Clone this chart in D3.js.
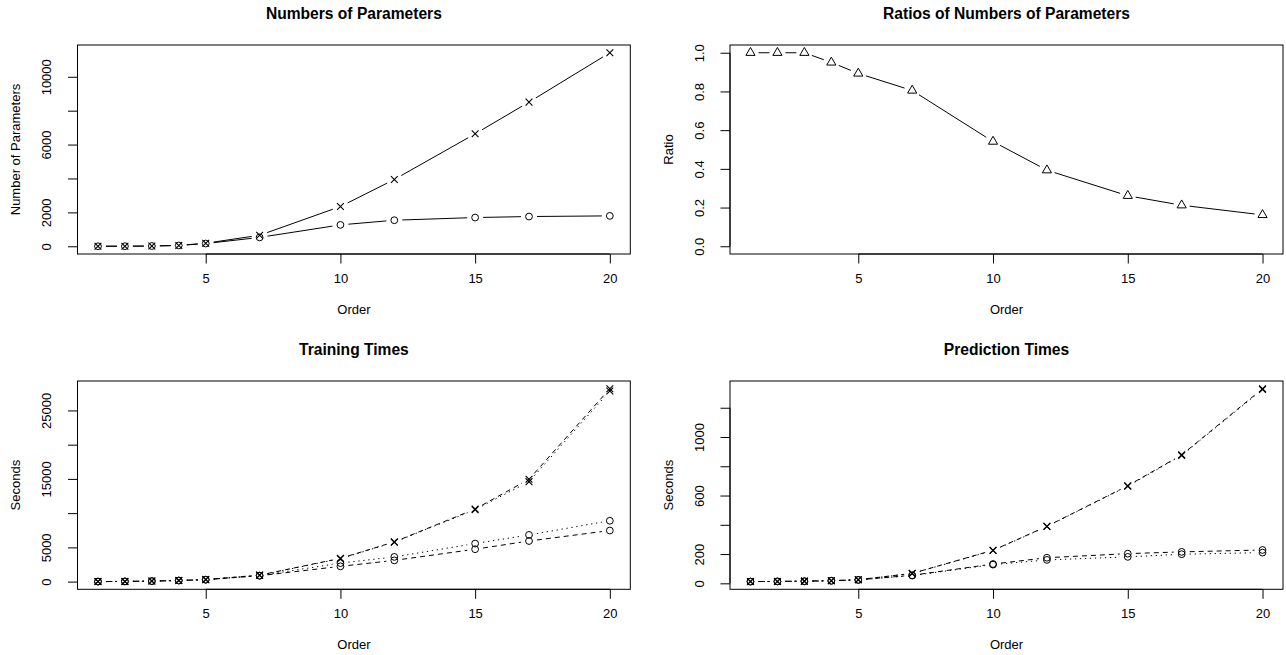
<!DOCTYPE html>
<html><head><meta charset="utf-8">
<script src="https://cdn.jsdelivr.net/npm/d3@7"></script>
<style>
body{margin:0;background:#fff}
svg{display:block}
text{font-family:"Liberation Sans",Arial,Helvetica,sans-serif;fill:#000}
</style>
</head><body>
<svg id="chart" width="1286" height="655"></svg>
<script>
// ---------- data ----------
const orders = [1, 2, 3, 4, 5, 7, 10, 12, 15, 17, 20];

const paramsFull    = [1, 5, 15, 50, 180, 650, 2345, 3940, 6634, 8505, 11418];
const paramsReduced = [1, 5, 15, 48, 162, 523, 1262, 1537, 1695, 1755, 1793];

const paramRatio = [1, 1, 1, 0.95, 0.893, 0.805, 0.541, 0.393, 0.261, 0.212, 0.162];

const trainFullDashed    = [5, 30, 80, 170, 300, 950, 3400, 5800, 10600, 14950, 28170];
const trainFullDotted    = [5, 30, 80, 165, 290, 930, 3350, 5760, 10500, 14600, 27830];
const trainReducedDashed = [5, 30, 75, 160, 280, 860, 2230, 3100, 4730, 5930, 7460];
const trainReducedDotted = [5, 30, 75, 160, 280, 880, 2700, 3610, 5560, 6820, 8890];

const predFullDashed    = [12, 13, 15, 18, 25, 68, 226, 390, 667, 878, 1330];
const predFullDotted    = [12, 13, 15, 18, 25, 67, 224, 388, 664, 874, 1325];
const predReducedDashed = [12, 13, 15, 18, 24, 55, 132, 175, 203, 215, 228];
const predReducedDotted = [12, 13, 14, 17, 23, 53, 128, 160, 181, 199, 210];

const xTicks = [5, 10, 15, 20];
const yTicksParams  = [0, 2000, 4000, 6000, 8000, 10000];
const yLabelsParams = [0, 2000, 6000, 10000];
const yTicksRatio   = [0, 0.2, 0.4, 0.6, 0.8, 1.0];
const yLabelsRatio  = [0, 0.2, 0.4, 0.6, 0.8, 1.0];
const yTicksTrain   = [0, 5000, 10000, 15000, 20000, 25000];
const yLabelsTrain  = [0, 5000, 15000, 25000];
const yTicksPred    = [0, 200, 400, 600, 800, 1000, 1200];
const yLabelsPred   = [0, 200, 600, 1000];

const titles = ["Numbers of Parameters", "Ratios of Numbers of Parameters", "Training Times", "Prediction Times"];
const yLabs  = ["Number of Parameters", "Ratio", "Seconds", "Seconds"];
const xLab   = "Order";

// ---------- layout ----------
const boxes = [
  {l: 77.5, r: 630.3, t: 45,  b: 254},
  {l: 730,  r: 1283,  t: 45,  b: 254},
  {l: 77.5, r: 630.3, t: 381, b: 589.3},
  {l: 730,  r: 1283,  t: 381, b: 589.3}
];
const DASH = "5,4", DOT = "1.3,3.7", SOLID = null;

const panels = [
  {series: [
     {v: paramsFull, sym: "x", dash: SOLID},
     {v: paramsReduced, sym: "o", dash: SOLID}],
   yTicks: yTicksParams, yLabels: yLabelsParams, fmt: d => String(d)},
  {series: [{v: paramRatio, sym: "tri", dash: SOLID}],
   ylim: [0, 1], yTicks: yTicksRatio, yLabels: yLabelsRatio, fmt: d3.format(".1f")},
  {series: [
     {v: trainFullDashed, sym: "x", dash: DASH},
     {v: trainFullDotted, sym: "x", dash: DOT},
     {v: trainReducedDashed, sym: "o", dash: DASH},
     {v: trainReducedDotted, sym: "o", dash: DOT}],
   yTicks: yTicksTrain, yLabels: yLabelsTrain, fmt: d => String(d)},
  {series: [
     {v: predFullDashed, sym: "x", dash: DASH},
     {v: predFullDotted, sym: "x", dash: DOT},
     {v: predReducedDashed, sym: "o", dash: DASH},
     {v: predReducedDotted, sym: "o", dash: DOT}],
   yTicks: yTicksPred, yLabels: yLabelsPred, fmt: d => String(d)}
];

const svg = d3.select("#chart");
const R = 3.4;      // symbol radius
const GAP = 8;      // type="b" gap around points
const TICK = 9.5;
const AX_FONT = 13, TITLE_FONT = 15.6;

function rPad(lo, hi) { const d = (hi - lo) * 0.04; return [lo - d, hi + d]; }

panels.forEach((p, i) => {
  const bx = boxes[i];
  const g = svg.append("g");
  const xd = d3.extent(orders);
  const x = d3.scaleLinear().domain(rPad(xd[0], xd[1])).range([bx.l, bx.r]);
  let lo, hi;
  if (p.ylim) { [lo, hi] = p.ylim; }
  else {
    lo = d3.min(p.series, s => d3.min(s.v));
    hi = d3.max(p.series, s => d3.max(s.v));
  }
  const y = d3.scaleLinear().domain(rPad(lo, hi)).range([bx.b, bx.t]);

  // box
  g.append("rect").attr("x", bx.l).attr("y", bx.t)
    .attr("width", bx.r - bx.l).attr("height", bx.b - bx.t)
    .attr("fill", "none").attr("stroke", "#000").attr("stroke-width", 1);

  // x axis
  const xa = d3.axisBottom(x).tickValues(xTicks).tickSize(TICK).tickPadding(5).tickFormat(d3.format("d"));
  const gx = g.append("g").attr("transform", `translate(0,${bx.b})`).call(xa);
  gx.select(".domain").attr("d", `M${x(xTicks[0])},0H${x(xTicks[xTicks.length-1])}`);
  gx.selectAll("text").attr("font-size", AX_FONT).attr("font-family", null).attr("fill", "#000")
    .attr("y", null).attr("dy", null).attr("transform", "translate(0,28.5)");
  gx.attr("font-family", null).attr("font-size", null);

  // y axis
  const ya = d3.axisLeft(y).tickValues(p.yTicks).tickSize(TICK)
    .tickFormat(d => p.yLabels.some(l => Math.abs(l - d) < 1e-9) ? p.fmt(d) : "");
  const gy = g.append("g").attr("transform", `translate(${bx.l},0)`).call(ya);
  gy.select(".domain").attr("d", `M0,${y(p.yTicks[0])}V${y(p.yTicks[p.yTicks.length-1])}`);
  gy.attr("font-family", null).attr("font-size", null);
  gy.selectAll("text").attr("font-size", AX_FONT).attr("fill", "#000")
    .attr("x", null).attr("dy", null).attr("text-anchor", "middle")
    .attr("transform", "translate(-31,0) rotate(-90) translate(0,4.6)");

  // titles & labels
  g.append("text").attr("x", (bx.l + bx.r) / 2).attr("y", bx.t - 31.7).attr("dy", "0.36em")
    .attr("text-anchor", "middle").attr("font-weight", "bold").attr("font-size", TITLE_FONT)
    .text(titles[i]);
  g.append("text").attr("x", (bx.l + bx.r) / 2).attr("y", bx.b + 55.5).attr("dy", "0.36em")
    .attr("text-anchor", "middle").attr("font-size", AX_FONT).text(xLab);
  g.append("text").attr("transform", `translate(${bx.l - 62},${(bx.t + bx.b) / 2}) rotate(-90)`)
    .attr("dy", "0.36em").attr("text-anchor", "middle").attr("font-size", AX_FONT).text(yLabs[i]);

  // series
  p.series.forEach(s => {
    const pts = orders.map((o, k) => [x(o), y(s.v[k])]);
    let d = "";
    for (let k = 0; k < pts.length - 1; k++) {
      const [x0, y0] = pts[k], [x1, y1] = pts[k + 1];
      const len = Math.hypot(x1 - x0, y1 - y0);
      if (len <= 2 * GAP) continue;
      const ux = (x1 - x0) / len, uy = (y1 - y0) / len;
      d += `M${x0 + ux * GAP},${y0 + uy * GAP}L${x1 - ux * GAP},${y1 - uy * GAP}`;
    }
    const path = g.append("path").attr("d", d).attr("fill", "none")
      .attr("stroke", "#000").attr("stroke-width", 1);
    if (s.dash) path.attr("stroke-dasharray", s.dash);

    const sym = g.append("g");
    pts.forEach(([px, py]) => {
      if (s.sym === "o") {
        sym.append("circle").attr("cx", px).attr("cy", py).attr("r", R)
          .attr("fill", "none").attr("stroke", "#000").attr("stroke-width", 1);
      } else if (s.sym === "x") {
        sym.append("path").attr("d", `M${px - R},${py - R}L${px + R},${py + R}M${px - R},${py + R}L${px + R},${py - R}`)
          .attr("stroke", "#000").attr("stroke-width", 1.1);
      } else {
        const r0 = 1.5551 * R, hx = 1.3468 * R, yc = 0.7776 * R;
        sym.append("path").attr("d", `M${px},${py - r0}L${px + hx},${py + yc}L${px - hx},${py + yc}Z`)
          .attr("fill", "none").attr("stroke", "#000").attr("stroke-width", 1);
      }
    });
  });
});
</script>
</body></html>
